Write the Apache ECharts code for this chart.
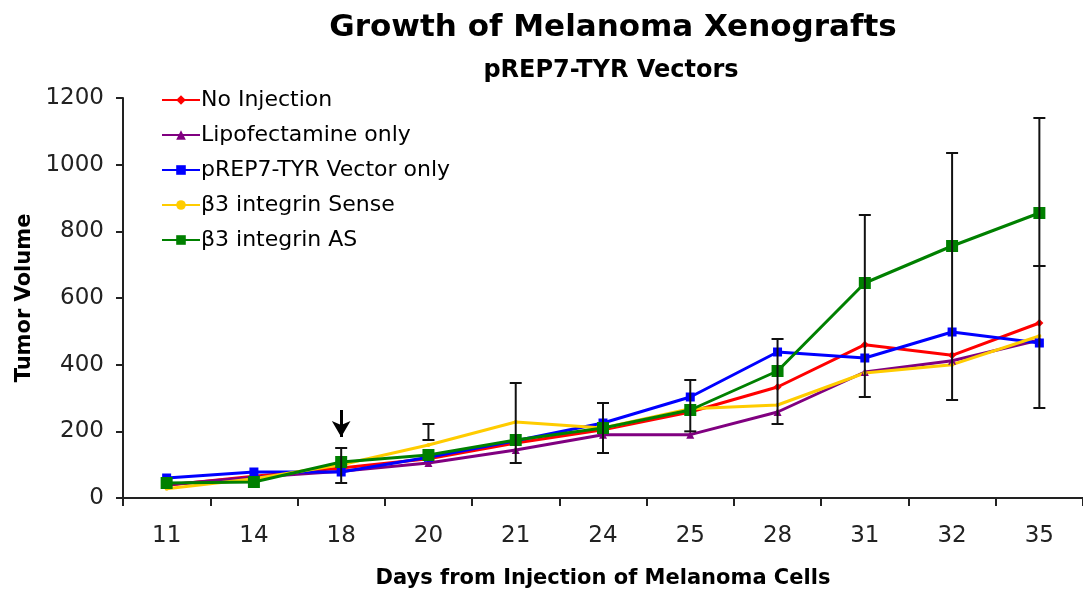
<!DOCTYPE html>
<html>
<head>
<meta charset="utf-8">
<script src="https://cdn.jsdelivr.net/npm/echarts@6/dist/echarts.min.js"></script>
<style>
  html, body { margin: 0; padding: 0; background: #ffffff; }
  #chart { width: 1083px; height: 594px; }
</style>
</head>
<body>
<div id="chart"></div>
<script>
// Days after injection of melanoma cells (category axis)
const days = ['11', '14', '18', '20', '21', '24', '25', '28', '31', '32', '35'];

// Mean tumor volume per treatment group
const noInjection   = [38, 65, 90, 118, 165, 205, 258, 333, 460, 428, 525];
const lipofectamine = [40, 62, 80, 105, 144, 190, 190, 258, 378, 412, 474];
const vectorOnly    = [60, 78, 78, 122, 172, 225, 303, 438, 420, 498, 465];
const integrinSense = [28, 58, 100, 159, 228, 210, 268, 279, 375, 400, 486];
const integrinAS    = [45, 48, 108, 129, 174, 210, 264, 381, 645, 756, 855];

// Error bars: [day, low, high]
const errorBars = [
  ['18', 45, 150],
  ['20', 174, 222],
  ['21', 105, 345],
  ['24', 135, 285],
  ['25', 200, 354],
  ['28', 222, 477],
  ['31', 303, 849],
  ['32', 294, 1035],
  ['35', 270, 696],
  ['35', 696, 1140]
];

// Arrow marking the treatment day: [day, tail value, tip value]
const treatmentArrow = ['18', 264, 183];

const yTicks = { min: 0, max: 1200, interval: 200 };

const FONT = 'DejaVu Sans';
const chart = echarts.init(document.getElementById('chart'));

function lineSeries(name, data, color, symbol, size) {
  return {
    name: name,
    type: 'line',
    data: data,
    symbol: symbol,
    symbolSize: size,
    showAllSymbol: true,
    lineStyle: { color: color, width: 3 },
    itemStyle: { color: color, borderWidth: 0 },
    emphasis: { disabled: true },
    z: 3
  };
}

const series = [
  lineSeries('No Injection', noInjection, '#ff0000', 'diamond', 8),
  lineSeries('Lipofectamine only', lipofectamine, '#800080', 'triangle', 8),
  lineSeries('pREP7-TYR Vector only', vectorOnly, '#0000ff', 'rect', 9),
  lineSeries('β3 integrin Sense', integrinSense, '#ffcc00', 'circle', 4),
  lineSeries('β3 integrin AS', integrinAS, '#008000', 'rect', 12),
  {
    type: 'custom',
    name: 'err',
    data: errorBars.map(e => [days.indexOf(e[0]), e[1], e[2]]),
    renderItem: function (params, api) {
      const x = api.value(0);
      const lo = api.coord([x, api.value(1)]);
      const hi = api.coord([x, api.value(2)]);
      const cap = 6;
      const style = { stroke: '#111111', lineWidth: 2 };
      return {
        type: 'group',
        children: [
          { type: 'line', shape: { x1: lo[0], y1: lo[1], x2: hi[0], y2: hi[1] }, style: style },
          { type: 'line', shape: { x1: lo[0] - cap, y1: lo[1], x2: lo[0] + cap, y2: lo[1] }, style: style },
          { type: 'line', shape: { x1: hi[0] - cap, y1: hi[1], x2: hi[0] + cap, y2: hi[1] }, style: style }
        ]
      };
    },
    encode: { x: 0, y: [1, 2] },
    silent: true,
    z: 4
  },
  {
    type: 'line',
    name: 'arrow',
    data: [],
    silent: true,
    markLine: {
      silent: true,
      symbol: ['none', 'arrow'],
      symbolSize: [14, 16],
      label: { show: false },
      lineStyle: { color: '#000000', width: 3, type: 'solid' },
      data: [[
        { coord: [treatmentArrow[0], treatmentArrow[1]] },
        { coord: [treatmentArrow[0], treatmentArrow[2]] }
      ]]
    }
  }
];

chart.setOption({
  animation: false,
  backgroundColor: '#ffffff',
  title: [
    {
      text: 'Growth of Melanoma Xenografts',
      left: 608, top: 7, textAlign: 'center',
      textStyle: { fontFamily: FONT, fontWeight: 'bold', fontSize: 31, color: '#000' }
    },
    {
      text: 'pREP7-TYR Vectors',
      left: 606, top: 54, textAlign: 'center',
      textStyle: { fontFamily: FONT, fontWeight: 'bold', fontSize: 24, color: '#000' }
    }
  ],
  legend: {
    orient: 'vertical',
    left: 156, top: 84,
    itemWidth: 38, itemHeight: 12, itemGap: 13,
    data: ['No Injection', 'Lipofectamine only', 'pREP7-TYR Vector only', 'β3 integrin Sense', 'β3 integrin AS'],
    textStyle: { fontFamily: FONT, fontSize: 22, color: '#000', padding: [0, 0, 0, -4] },
    selectedMode: false
  },
  grid: { left: 123, top: 98, width: 968, height: 400, containLabel: false },
  xAxis: {
    type: 'category',
    data: days,
    boundaryGap: true,
    name: 'Days from Injection of Melanoma Cells',
    nameLocation: 'middle',
    nameGap: 70,
    nameTextStyle: { fontFamily: FONT, fontWeight: 'bold', fontSize: 21, color: '#000' },
    axisLine: { lineStyle: { color: '#222', width: 2 } },
    axisTick: { show: true, length: 8, lineStyle: { color: '#222', width: 2 } },
    axisLabel: { fontFamily: FONT, fontSize: 23, color: '#222', margin: 27 },
    splitLine: { show: false }
  },
  yAxis: {
    type: 'value',
    min: yTicks.min, max: yTicks.max, interval: yTicks.interval,
    name: 'Tumor Volume',
    nameLocation: 'middle',
    nameGap: 86,
    nameRotate: 90,
    nameTextStyle: { fontFamily: FONT, fontWeight: 'bold', fontSize: 21, color: '#000' },
    axisLine: { show: true, lineStyle: { color: '#222', width: 2 } },
    axisTick: { show: true, length: 7, lineStyle: { color: '#222', width: 2 } },
    axisLabel: { fontFamily: FONT, fontSize: 23, color: '#222', margin: 19, formatter: v => String(v) },
    splitLine: { show: false }
  },
  series: series
});
</script>
</body>
</html>
